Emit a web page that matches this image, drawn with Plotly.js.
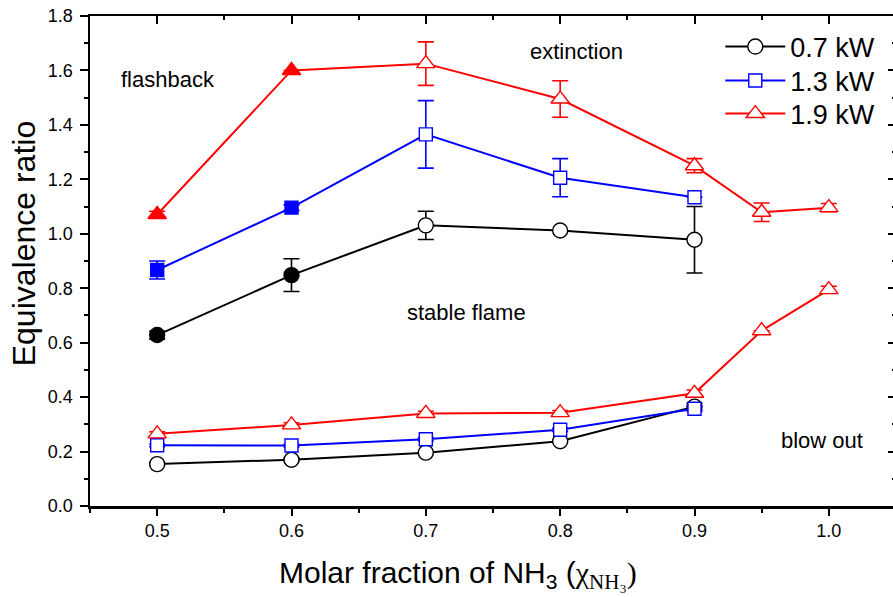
<!DOCTYPE html>
<html>
<head>
<meta charset="utf-8">
<script src="https://cdn.plot.ly/plotly-3.0.1.min.js"></script>
<style>
html,body{margin:0;padding:0;overflow:hidden;background:#fff;}
#chart{width:900px;height:597px;}
</style>
</head>
<body>
<div id="chart"></div>
<script>
// ---- data ----
const seriesNames = ["0.7 kW", "1.3 kW", "1.9 kW"];

// upper limits (flashback / extinction)
const x_07_up   = [0.5, 0.6, 0.7, 0.8, 0.9];
const phi_07_up = [0.628, 0.848, 1.031, 1.012, 0.978];
const err_07_up = [0.015, 0.060, 0.052, 0.000, 0.122];
const filled_07_up = [true, true, false, false, false];

const x_13_up   = [0.5, 0.6, 0.7, 0.8, 0.9];
const phi_13_up = [0.867, 1.096, 1.365, 1.206, 1.134];
const err_13_up = [0.033, 0.010, 0.124, 0.070, 0.000];
const filled_13_up = [true, true, false, false, false];

const x_19_up   = [0.5, 0.6, 0.7, 0.8, 0.9, 0.95, 1.0];
const phi_19_up = [1.071, 1.600, 1.625, 1.495, 1.250, 1.079, 1.096];
const err_19_up = [0.012, 0.000, 0.080, 0.067, 0.026, 0.034, 0.015];
const filled_19_up = [true, true, false, false, false, false, false];

// lower limits (blow out)
const x_07_lo   = [0.5, 0.6, 0.7, 0.8, 0.9];
const phi_07_lo = [0.154, 0.170, 0.196, 0.238, 0.365];
const err_07_lo = [0.005, 0.005, 0.005, 0.005, 0.012];

const x_13_lo   = [0.5, 0.6, 0.7, 0.8, 0.9];
const phi_13_lo = [0.223, 0.222, 0.245, 0.280, 0.357];
const err_13_lo = [0.005, 0.005, 0.006, 0.006, 0.010];

const x_19_lo   = [0.5, 0.6, 0.7, 0.8, 0.9, 0.95, 1.0];
const phi_19_lo = [0.265, 0.298, 0.340, 0.343, 0.414, 0.644, 0.795];
const err_19_lo = [0.008, 0.008, 0.008, 0.008, 0.012, 0.000, 0.012];

const regionLabels = ["flashback", "extinction", "stable flame", "blow out"];
const regionX = [0.508, 0.812, 0.730, 0.995];
const regionY = [1.565, 1.668, 0.709, 0.239];

const xTitle = "Molar fraction of NH<sub>3</sub> (<span style='font-family:Liberation Serif'>χ<sub>NH₃</sub>)</span>";
const yTitle = "Equivalence ratio";

// ---- styles ----
const colors = ["#000000", "#0000ff", "#ff0000"];
const symbols = ["circle", "square", "triangle-up"];
const sizes = [15, 13, 16];
const legendIds = ["legend", "legend2", "legend3"];

function mk(i, x, y, err, filled, showLegend) {
  const fill = filled ? filled.map(f => f ? colors[i] : "#ffffff") : x.map(() => "#ffffff");
  return {
    type: "scatter", mode: "lines+markers",
    x: x, y: y, name: seriesNames[i], showlegend: showLegend, legend: legendIds[i],
    line: {color: colors[i], width: 2},
    marker: {symbol: symbols[i], size: sizes[i], color: fill, line: {color: colors[i], width: 1.4}},
    error_y: {type: "data", array: err, visible: true, color: colors[i], thickness: 1.6, width: 8},
    cliponaxis: false
  };
}

const traces = [
  mk(0, x_07_lo, phi_07_lo, err_07_lo, null, true),
  mk(1, x_13_lo, phi_13_lo, err_13_lo, null, true),
  mk(2, x_19_lo, phi_19_lo, err_19_lo, null, true),
  mk(0, x_07_up, phi_07_up, err_07_up, filled_07_up, false),
  mk(1, x_13_up, phi_13_up, err_13_up, filled_13_up, false),
  mk(2, x_19_up, phi_19_up, err_19_up, filled_19_up, false),
  {type: "scatter", x: [], y: [], xaxis: "x2", yaxis: "y2", showlegend: false, hoverinfo: "skip"}
];

const sans = "Liberation Sans, Arial, sans-serif";
const tickFont = {family: sans, size: 18, color: "#000"};
const xr = [0.45, 1.05], yr = [0, 1.8];

function legendAt(py) {
  return {
    x: 0.782, y: py, xanchor: "left", yanchor: "middle",
    bgcolor: "rgba(0,0,0,0)", borderwidth: 0,
    font: {size: 27, family: sans, color: "#000"},
    itemwidth: 60
  };
}

const annotations = regionLabels.map((t, i) => ({
  x: regionX[i], y: regionY[i], xref: "x", yref: "y", text: t, showarrow: false,
  font: {size: 22, family: sans, color: "#000"}
}));
annotations.push({
  x: 0.4566, y: -0.14, xref: "paper", yref: "paper", xanchor: "center", yanchor: "middle",
  text: xTitle, showarrow: false, font: {size: 30, family: sans, color: "#000"}
});
annotations.push({
  x: -0.082, y: 0.536, xref: "paper", yref: "paper", xanchor: "center", yanchor: "middle",
  text: yTitle, textangle: -90, showarrow: false, font: {size: 32, family: sans, color: "#000"}
});

const layout = {
  width: 900, height: 597,
  margin: {l: 90, r: 4, t: 16, b: 91},
  paper_bgcolor: "#fff", plot_bgcolor: "#fff",
  font: {family: sans, color: "#000"},
  xaxis: {
    range: xr, showgrid: false, zeroline: false,
    showline: true, linecolor: "#000", linewidth: 2.5,
    ticks: "outside", ticklen: 7, tickwidth: 2, tickcolor: "#000",
    tick0: 0.5, dtick: 0.1, tickformat: ".1f", tickfont: tickFont,
    minor: {ticks: "outside", ticklen: 4, tickwidth: 2, tickcolor: "#000", dtick: 0.05, tick0: 0.45}
  },
  yaxis: {
    range: yr, showgrid: false, zeroline: false,
    showline: true, linecolor: "#000", linewidth: 2.5,
    ticks: "outside", ticklen: 8, tickwidth: 2, tickcolor: "#000",
    tick0: 0, dtick: 0.2, tickformat: ".1f", tickfont: tickFont, ticklabelstandoff: 3,
    minor: {ticks: "outside", ticklen: 4, tickwidth: 2, tickcolor: "#000", dtick: 0.1}
  },
  xaxis2: {
    overlaying: "x", side: "top", anchor: "y", range: xr, showgrid: false, zeroline: false,
    showline: true, linecolor: "#000", linewidth: 2.5,
    ticks: "inside", ticklen: 8, tickwidth: 2, tickcolor: "#000",
    tick0: 0.5, dtick: 0.1, showticklabels: false,
    minor: {ticks: "inside", ticklen: 4, tickwidth: 2, tickcolor: "#000", dtick: 0.05, tick0: 0.45}
  },
  yaxis2: {
    overlaying: "y", side: "right", anchor: "x", range: yr, showgrid: false, zeroline: false,
    showline: true, linecolor: "#000", linewidth: 2.5,
    ticks: "inside", ticklen: 8, tickwidth: 2, tickcolor: "#000",
    tick0: 0, dtick: 0.2, showticklabels: false,
    minor: {ticks: "inside", ticklen: 4, tickwidth: 2, tickcolor: "#000", dtick: 0.1}
  },
  legend: legendAt(0.9367),
  legend2: legendAt(0.8673),
  legend3: legendAt(0.800),
  annotations: annotations
};

Plotly.newPlot("chart", traces, layout, {displayModeBar: false, staticPlot: true});
</script>
</body>
</html>
